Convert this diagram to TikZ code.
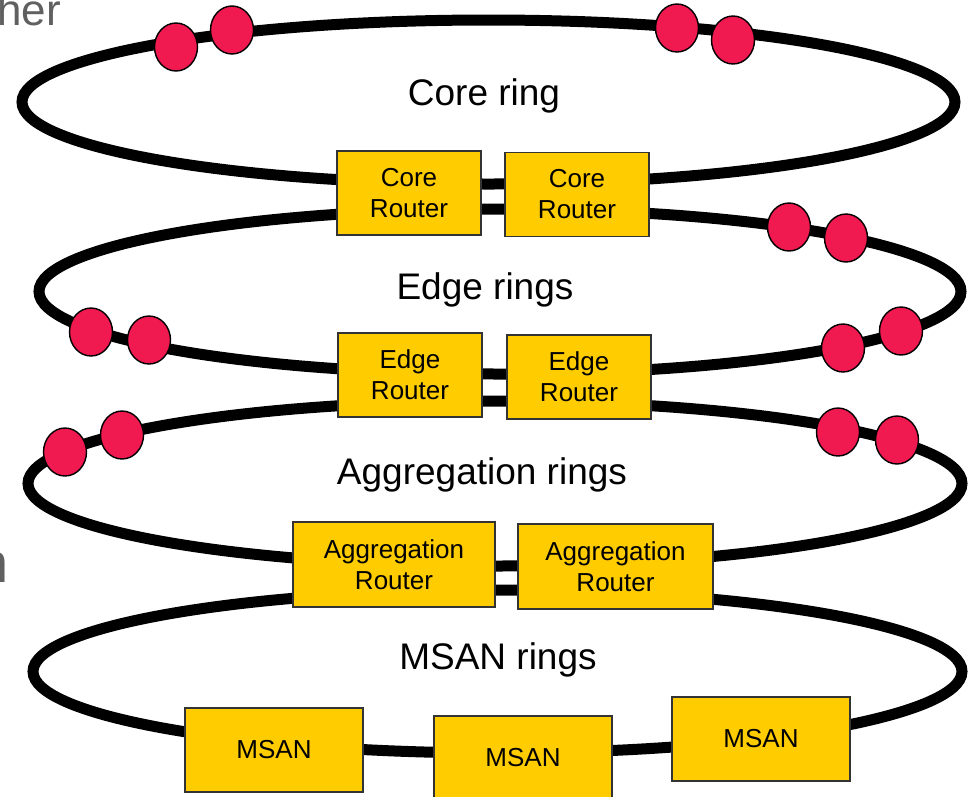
\documentclass[tikz,border=0pt]{standalone}
\usepackage{fontspec}
\setmainfont{Liberation Sans}
\usetikzlibrary{shapes.geometric}
\definecolor{boxyellow}{HTML}{FFCC00}
\definecolor{dotred}{RGB}{240,25,80}
\definecolor{slidegray}{HTML}{606060}
\begin{document}
\begin{tikzpicture}[x=1pt,y=-1pt,
  ring/.style={line width=11pt,black},
  bead/.style={ellipse,draw=black,line width=1.4pt,fill=dotred,
    minimum width=43pt,minimum height=48pt,inner sep=0pt},
  router/.style={rectangle,draw=black!80,line width=1.2pt,fill=boxyellow,
    minimum height=84pt,align=center,inner sep=0pt,
    font=\fontsize{26pt}{31pt}\selectfont},
  ringlabel/.style={anchor=base,inner sep=0pt,font=\fontsize{37pt}{44pt}\selectfont},
  slidetext/.style={inner sep=0pt,text=slidegray}]
\useasboundingbox (0,0) rectangle (969,796);
\clip (0,0) rectangle (969,796);

% leftover slide text at the edges
\node[slidetext,anchor=base west,font=\fontsize{44pt}{50pt}\selectfont] (t1) at (-3,25) {her};
\node[slidetext,anchor=base east,font=\fontsize{56pt}{60pt}\selectfont] (t2) at (9,582) {n};

% the four rings
\draw[ring] (488.5,102) ellipse [x radius=466.5, y radius=82];
\draw[ring] (500,291.5) ellipse [x radius=461, y radius=82.5];
\draw[ring] (495,483.5) ellipse [x radius=467, y radius=82.5];
\draw[ring] (497.5,671.5) ellipse [x radius=464.5, y radius=81.5];

% nodes sitting on the rings
\node[bead] (c1) at (176,47) {};
\node[bead] (c2) at (232,30) {};
\node[bead] (c3) at (677,28) {};
\node[bead] (c4) at (733,40) {};

\node[bead] (e1) at (789,227) {};
\node[bead] (e2) at (846,238) {};
\node[bead] (e3) at (91,332) {};
\node[bead] (e4) at (149,340) {};
\node[bead] (e5) at (843,348) {};
\node[bead] (e6) at (901,331) {};

\node[bead] (a1) at (65,452) {};
\node[bead] (a2) at (122,435) {};
\node[bead] (a3) at (838,432) {};
\node[bead] (a4) at (897,440) {};

% routers
\node[router,minimum width=144pt] (cr1) at (409,193) {Core\\Router};
\node[router,minimum width=144pt] (cr2) at (577,194.5) {Core\\Router};
\node[router,minimum width=144pt] (er1) at (410,375) {Edge\\Router};
\node[router,minimum width=144pt] (er2) at (579,377) {Edge\\Router};
\node[router,minimum width=202pt,minimum height=85pt] (ar1) at (394,564.5) {Aggregation\\Router};
\node[router,minimum width=195pt,minimum height=85pt] (ar2) at (615.5,566.5) {Aggregation\\Router};
\node[router,minimum width=178pt] (m1) at (274,750) {MSAN};
\node[router,minimum width=178pt] (m2) at (523,758) {MSAN};
\node[router,minimum width=178pt] (m3) at (761,739) {MSAN};

% ring labels
\node[ringlabel] (l1) at (484,105) {Core ring};
\node[ringlabel] (l2) at (485,299) {Edge rings};
\node[ringlabel] (l3) at (482,484) {Aggregation rings};
\node[ringlabel] (l4) at (498,669) {MSAN rings};
\end{tikzpicture}
\end{document}
